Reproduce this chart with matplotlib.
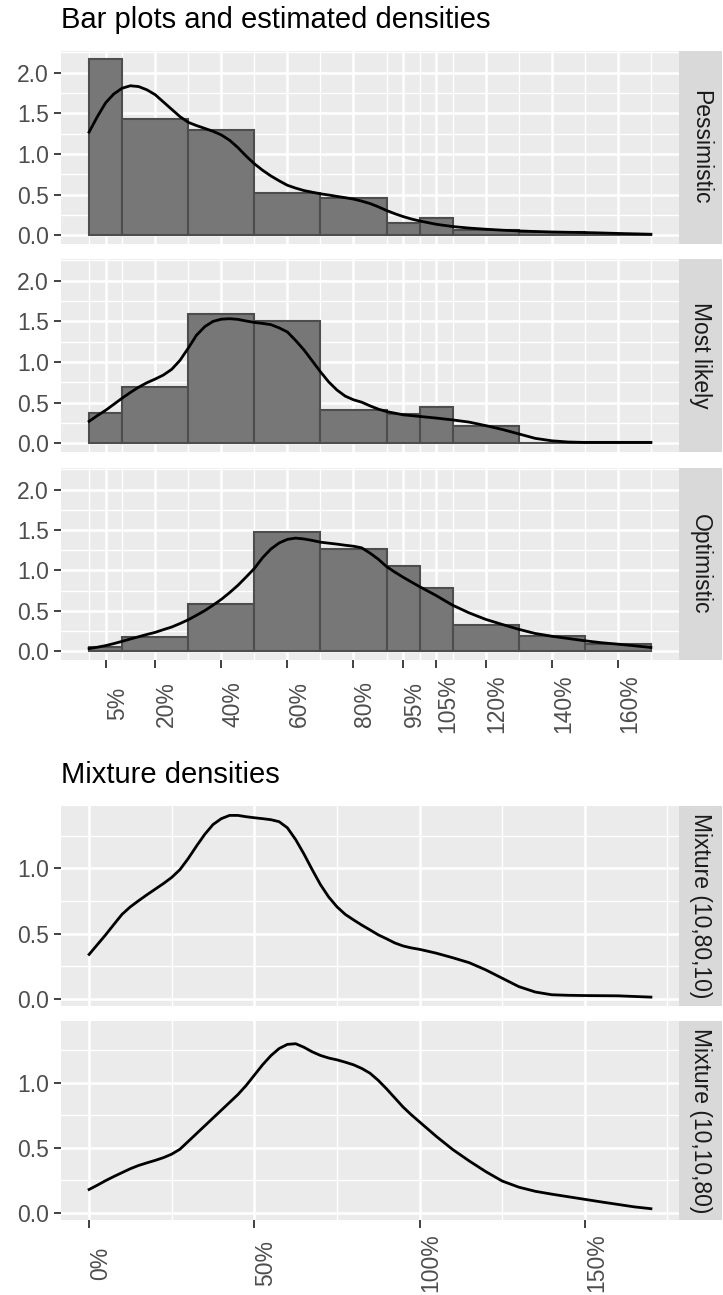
import matplotlib
matplotlib.use("Agg")
import matplotlib.pyplot as plt

plt.rcParams['font.family'] = ['Liberation Sans', 'DejaVu Sans']

W, H = 723, 1295

# histogram bins (percent) and bar heights per scenario
bin_edges = [0, 10, 30, 50, 70, 90, 100, 110, 130, 150, 170]
pess_heights = [2.17, 1.425, 1.29, 0.52, 0.455, 0.147, 0.21, 0.06, 0.04, 0.02]
likely_heights = [0.377, 0.69, 1.59, 1.507, 0.41, 0.357, 0.44, 0.217, 0.0, 0.015]
opt_heights = [0.05, 0.18, 0.585, 1.48, 1.27, 1.06, 0.78, 0.32, 0.185, 0.095]

bar_ticks = [5, 20, 40, 60, 80, 95, 105, 120, 140, 160]
bar_tick_labels = ['5%', '20%', '40%', '60%', '80%', '95%', '105%', '120%', '140%', '160%']

# density curves
dens_x = [0, 2.5, 5, 7.5, 10, 12.5, 15, 17.5, 20, 22.5, 25, 27.5, 30, 32.5, 35, 37.5,
          40, 42.5, 45, 47.5, 50, 52.5, 55, 57.5, 60, 62.5, 65, 67.5, 70, 72.5, 75,
          77.5, 80, 82.5, 85, 87.5, 90, 92.5, 95, 97.5, 100, 105, 110, 115, 120, 125,
          130, 135, 140, 145, 150, 155, 160, 165, 170]
pess_dens = [1.27, 1.46, 1.63, 1.74, 1.81, 1.84, 1.83, 1.79, 1.73, 1.64, 1.55, 1.46,
             1.39, 1.35, 1.315, 1.28, 1.235, 1.17, 1.08, 0.975, 0.88, 0.80, 0.73, 0.67,
             0.615, 0.58, 0.55, 0.53, 0.51, 0.495, 0.478, 0.462, 0.445, 0.42, 0.39,
             0.35, 0.305, 0.265, 0.23, 0.20, 0.176, 0.135, 0.107, 0.088, 0.074, 0.062,
             0.053, 0.046, 0.04, 0.036, 0.033, 0.028, 0.022, 0.017, 0.012]
likely_dens = [0.27, 0.34, 0.405, 0.48, 0.555, 0.625, 0.69, 0.745, 0.79, 0.84, 0.91,
               1.02, 1.17, 1.33, 1.435, 1.50, 1.527, 1.533, 1.525, 1.505, 1.487, 1.475,
               1.46, 1.42, 1.37, 1.265, 1.15, 1.015, 0.88, 0.755, 0.655, 0.58, 0.535,
               0.505, 0.46, 0.42, 0.39, 0.37, 0.35, 0.34, 0.33, 0.31, 0.287, 0.26,
               0.217, 0.17, 0.115, 0.06, 0.03, 0.015, 0.01, 0.01, 0.01, 0.01, 0.01]
opt_dens = [0.033, 0.05, 0.07, 0.095, 0.123, 0.152, 0.18, 0.208, 0.234, 0.268, 0.30,
            0.343, 0.39, 0.445, 0.503, 0.57, 0.642, 0.725, 0.815, 0.918, 1.025, 1.158,
            1.265, 1.34, 1.385, 1.40, 1.39, 1.372, 1.35, 1.338, 1.326, 1.312, 1.30,
            1.28, 1.215, 1.14, 1.048, 0.98, 0.917, 0.858, 0.80, 0.69, 0.57, 0.475,
            0.395, 0.332, 0.272, 0.22, 0.186, 0.158, 0.13, 0.106, 0.088, 0.068, 0.047]
mix1_dens = [0.34, 0.415, 0.49, 0.57, 0.648, 0.705, 0.752, 0.797, 0.84, 0.883, 0.93,
             0.99, 1.075, 1.17, 1.26, 1.335, 1.38, 1.405, 1.405, 1.395, 1.387, 1.38,
             1.372, 1.357, 1.31, 1.22, 1.11, 0.99, 0.875, 0.78, 0.705, 0.647, 0.605,
             0.565, 0.528, 0.49, 0.46, 0.428, 0.405, 0.39, 0.379, 0.35, 0.315, 0.277,
             0.222, 0.158, 0.094, 0.052, 0.031, 0.027, 0.025, 0.024, 0.023, 0.018, 0.013]
mix2_dens = [0.18, 0.213, 0.248, 0.28, 0.31, 0.34, 0.365, 0.385, 0.404, 0.425, 0.452,
             0.49, 0.55, 0.61, 0.67, 0.73, 0.79, 0.85, 0.91, 0.98, 1.06, 1.14, 1.21,
             1.265, 1.297, 1.302, 1.275, 1.24, 1.212, 1.192, 1.178, 1.16, 1.14, 1.112,
             1.075, 1.02, 0.955, 0.885, 0.815, 0.755, 0.70, 0.59, 0.488, 0.40, 0.318,
             0.245, 0.198, 0.166, 0.144, 0.124, 0.104, 0.084, 0.065, 0.046, 0.032]

top_labels = ['Pessimistic', 'Most likely', 'Optimistic']
mix_labels = ['Mixture (10,80,10)', 'Mixture (10,10,80)']
mix_ticks = [0, 50, 100, 150]
mix_tick_labels = ['0%', '50%', '100%', '150%']

FS = 16.5
BG = '#EBEBEB'


def px_axes(fig, left, top, right, bottom):
    return fig.add_axes([left / W, 1 - bottom / H, (right - left) / W, (bottom - top) / H])


def style_panel(ax):
    ax.set_facecolor(BG)
    for s in ax.spines.values():
        s.set_visible(False)
    ax.set_axisbelow(True)
    ax.grid(which='major', color='white', linewidth=1.8)
    ax.grid(which='minor', color='white', linewidth=0.95)
    ax.tick_params(which='major', length=5.4, width=1.3, color='#333333',
                   labelsize=FS, labelcolor='#4D4D4D', pad=3.5)
    ax.tick_params(which='minor', length=0)


def add_strip(fig, top, bottom, label):
    sax = px_axes(fig, 679, top, 722, bottom)
    sax.set_facecolor('#D9D9D9')
    for s in sax.spines.values():
        s.set_visible(False)
    sax.set_xticks([])
    sax.set_yticks([])
    sax.text(0.5, 0.5, label, rotation=-90, ha='center', va='center',
             fontsize=FS, color='#1A1A1A', transform=sax.transAxes)


fig = plt.figure(figsize=(W / 100, H / 100), dpi=100)

# ---- top: histograms with densities ----
fig.text(61 / W, 1 - 20 / H, 'Bar plots and estimated densities', fontsize=21,
         ha='left', va='center', color='black')

top_panels = [(51, 244), (259, 452), (468, 660)]
bar_sets = [pess_heights, likely_heights, opt_heights]
dens_sets = [pess_dens, likely_dens, opt_dens]
lefts = bin_edges[:-1]
widths = [b - a for a, b in zip(bin_edges[:-1], bin_edges[1:])]

for i, (top, bottom) in enumerate(top_panels):
    ax = px_axes(fig, 61, top, 679, bottom)
    style_panel(ax)
    ax.bar(lefts, bar_sets[i], width=widths, align='edge', color='#777777',
           edgecolor='#4D4D4D', linewidth=1.5, zorder=2)
    ax.plot(dens_x, dens_sets[i], color='black', linewidth=2.0, zorder=3)
    ax.set_xlim(-8.5, 178.5)
    ax.set_ylim(-0.108, 2.268)
    ax.set_yticks([0, 0.5, 1.0, 1.5, 2.0])
    ax.set_yticklabels(['0.0', '0.5', '1.0', '1.5', '2.0'])
    ax.set_yticks([0.25, 0.75, 1.25, 1.75, 2.25], minor=True)
    ax.set_xticks(bar_ticks)
    ax.set_xticks(bin_edges, minor=True)
    if i < 2:
        ax.tick_params(axis='x', which='major', length=0, labelbottom=False)
    else:
        ax.set_xticklabels(bar_tick_labels, rotation=90, ha='left', va='center')
        ax.tick_params(axis='x', which='major', pad=26)
    add_strip(fig, top, bottom, top_labels[i])

# ---- bottom: mixture densities ----
fig.text(61 / W, 1 - 775 / H, 'Mixture densities', fontsize=21,
         ha='left', va='center', color='black')

mix_panels = [(806, 1006), (1021, 1220)]
mix_sets = [mix1_dens, mix2_dens]
for i, (top, bottom) in enumerate(mix_panels):
    ax = px_axes(fig, 61, top, 679, bottom)
    style_panel(ax)
    ax.plot(dens_x, mix_sets[i], color='black', linewidth=2.0, zorder=3)
    ax.set_xlim(-8.5, 178.5)
    ax.set_ylim(-0.055, 1.477)
    ax.set_yticks([0, 0.5, 1.0])
    ax.set_yticklabels(['0.0', '0.5', '1.0'])
    ax.set_yticks([0.25, 0.75, 1.25], minor=True)
    ax.set_xticks(mix_ticks)
    ax.set_xticks([25, 75, 125, 175], minor=True)
    if i == 0:
        ax.tick_params(axis='x', which='major', length=0, labelbottom=False)
    else:
        ax.set_xticklabels(mix_tick_labels, rotation=90, ha='left', va='center')
        ax.tick_params(axis='x', which='major', pad=25.5)
    add_strip(fig, top, bottom, mix_labels[i])

fig.savefig('out.png', dpi=100, facecolor='white')
